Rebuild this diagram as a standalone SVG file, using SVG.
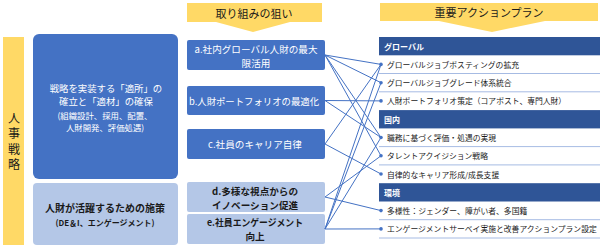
<svg xmlns="http://www.w3.org/2000/svg" width="600" height="249" viewBox="0 0 600 249">
<style>
text{font-family:"Noto Sans CJK JP","Noto Sans",sans-serif;dominant-baseline:central}
.hdr{fill:#FFD966}
.blue{fill:#4472C4}
.lite{fill:#B4C7E7}
.bar{fill:#2F5597}
.w{fill:#fff}
.k{fill:#1a1a1a}
.mid{font-size:9.6px;text-anchor:middle}
.item{font-size:7.8px;fill:#1a1a1a}
.bart{font-size:8px;fill:#fff;font-weight:bold}
.sep{stroke:#8FAADC;stroke-width:0.8}
.con{stroke:#4472C4;stroke-width:1;fill:none}
.dot{fill:#4472C4}
.vt{font-size:12px;text-anchor:middle;fill:#1a1a1a}
</style>
<g id="header-aims">
<path class="hdr" d="M187,3H322V22H290L253,32L216,22H187Z"/>
<text x="254" y="13" font-size="11" text-anchor="middle" class="k">取り組みの狙い</text>
</g>
<g id="header-plans">
<path class="hdr" d="M380,3H598V21H545L492,32L439,21H380Z"/>
<text x="489" y="12" font-size="11" text-anchor="middle" class="k">重要アクションプラン</text>
</g>
<g id="hr-strategy">
<rect class="hdr" x="3" y="37" width="21" height="208"/>
<text x="14" y="117" class="vt">人</text>
<text x="14" y="132.5" class="vt">事</text>
<text x="14" y="148" class="vt">戦</text>
<text x="14" y="163.5" class="vt">略</text>
</g>
<g id="strategy-box">
<rect class="blue" x="33" y="34" width="145" height="145" rx="6"/>
<text x="106" y="88" font-size="9.4" text-anchor="middle" class="w">戦略を実装する「適所」の</text>
<text x="106" y="101" font-size="9.4" text-anchor="middle" class="w">確立と「適材」の確保</text>
<text x="105" y="115" font-size="8.4" text-anchor="middle" class="w">(組織設計、採用、配置、</text>
<text x="105" y="127" font-size="8.4" text-anchor="middle" class="w">人財開発、評価処遇)</text>
</g>
<g id="measures-box">
<rect class="lite" x="33" y="183" width="145" height="62" rx="4"/>
<text x="105" y="207" font-size="10" font-weight="bold" text-anchor="middle" class="k">人財が活躍するための施策</text>
<text x="105" y="222" font-size="8" font-weight="bold" text-anchor="middle" class="k">(DE＆I、エンゲージメント)</text>
</g>
<g id="aim-a">
<rect class="blue" x="187" y="40" width="138" height="30" rx="2"/>
<text x="256" y="48.5" class="mid w" textLength="123" lengthAdjust="spacingAndGlyphs">a.社内グローバル人財の最大</text>
<text x="256" y="62.5" class="mid w">限活用</text>
</g>
<g id="aim-b">
<rect class="blue" x="187" y="86" width="138" height="29" rx="2"/>
<text x="254" y="100.5" class="mid w" textLength="130" lengthAdjust="spacingAndGlyphs">b.人財ポートフォリオの最適化</text>
</g>
<g id="aim-c">
<rect class="blue" x="187" y="129" width="138" height="30" rx="2"/>
<text x="255" y="144" class="mid w">c.社員のキャリア自律</text>
</g>
<g id="aim-d">
<rect class="lite" x="187" y="182" width="138" height="30" rx="2"/>
<text x="255" y="190.5" class="mid k" font-weight="bold">d.多様な視点からの</text>
<text x="255" y="204.5" class="mid k" font-weight="bold">イノベーション促進</text>
</g>
<g id="aim-e">
<rect class="lite" x="187" y="214" width="138" height="30" rx="2"/>
<text x="255" y="222" class="mid k" font-weight="bold" textLength="96" lengthAdjust="spacingAndGlyphs">e.社員エンゲージメント</text>
<text x="255" y="236" class="mid k" font-weight="bold">向上</text>
</g>
<g id="plans">
<rect class="bar" x="379" y="37" width="221" height="18.3"/>
<text x="384" y="46.1" class="bart">グローバル</text>
<text x="387" y="64.4" class="item">グローバルジョブポスティングの拡充</text>
<line class="sep" x1="379" y1="73.5" x2="600" y2="73.5"/>
<text x="387" y="82.7" class="item">グローバルジョブグレード体系統合</text>
<line class="sep" x1="379" y1="91.8" x2="600" y2="91.8"/>
<text x="387" y="100.9" class="item">人財ポートフォリオ策定（コアポスト、専門人財）</text>
<rect class="bar" x="379" y="110.1" width="221" height="18.3"/>
<text x="384" y="119.2" class="bart">国内</text>
<text x="387" y="137.5" class="item">職務に基づく評価・処遇の実現</text>
<line class="sep" x1="379" y1="146.6" x2="600" y2="146.6"/>
<text x="387" y="155.8" class="item">タレントアクイジション戦略</text>
<line class="sep" x1="379" y1="164.9" x2="600" y2="164.9"/>
<text x="387" y="174" class="item">自律的なキャリア形成/成長支援</text>
<rect class="bar" x="379" y="183.2" width="221" height="18.3"/>
<text x="384" y="192.3" class="bart">環境</text>
<text x="387" y="210.6" class="item">多様性：ジェンダー、障がい者、多国籍</text>
<line class="sep" x1="379" y1="219.7" x2="600" y2="219.7"/>
<text x="387" y="228.9" class="item">エンゲージメントサーベイ実施と改善アクションプラン設定</text>
<line class="sep" x1="379" y1="238" x2="600" y2="238"/>
</g>
<g id="connectors">
<line class="con" x1="325" y1="55" x2="381" y2="64.4"/>
<line class="con" x1="325" y1="55" x2="381" y2="82.7"/>
<line class="con" x1="325" y1="55" x2="381" y2="137.5"/>
<line class="con" x1="325" y1="55" x2="381" y2="155.8"/>
<line class="con" x1="325" y1="100.5" x2="381" y2="100.9"/>
<line class="con" x1="325" y1="100.5" x2="381" y2="137.5"/>
<line class="con" x1="325" y1="144" x2="381" y2="64.4"/>
<line class="con" x1="325" y1="144" x2="381" y2="174"/>
<line class="con" x1="325" y1="197" x2="381" y2="155.8"/>
<line class="con" x1="325" y1="197" x2="381" y2="210.6"/>
<line class="con" x1="325" y1="229" x2="381" y2="64.4"/>
<line class="con" x1="325" y1="229" x2="381" y2="82.7"/>
<line class="con" x1="325" y1="229" x2="381" y2="137.5"/>
<line class="con" x1="325" y1="229" x2="381" y2="228.9"/>
<circle class="dot" cx="381" cy="64.4" r="1.8"/>
<circle class="dot" cx="381" cy="82.7" r="1.8"/>
<circle class="dot" cx="381" cy="100.9" r="1.8"/>
<circle class="dot" cx="381" cy="137.5" r="1.8"/>
<circle class="dot" cx="381" cy="155.8" r="1.8"/>
<circle class="dot" cx="381" cy="174" r="1.8"/>
<circle class="dot" cx="381" cy="210.6" r="1.8"/>
<circle class="dot" cx="381" cy="228.9" r="1.8"/>
</g>
</svg>
